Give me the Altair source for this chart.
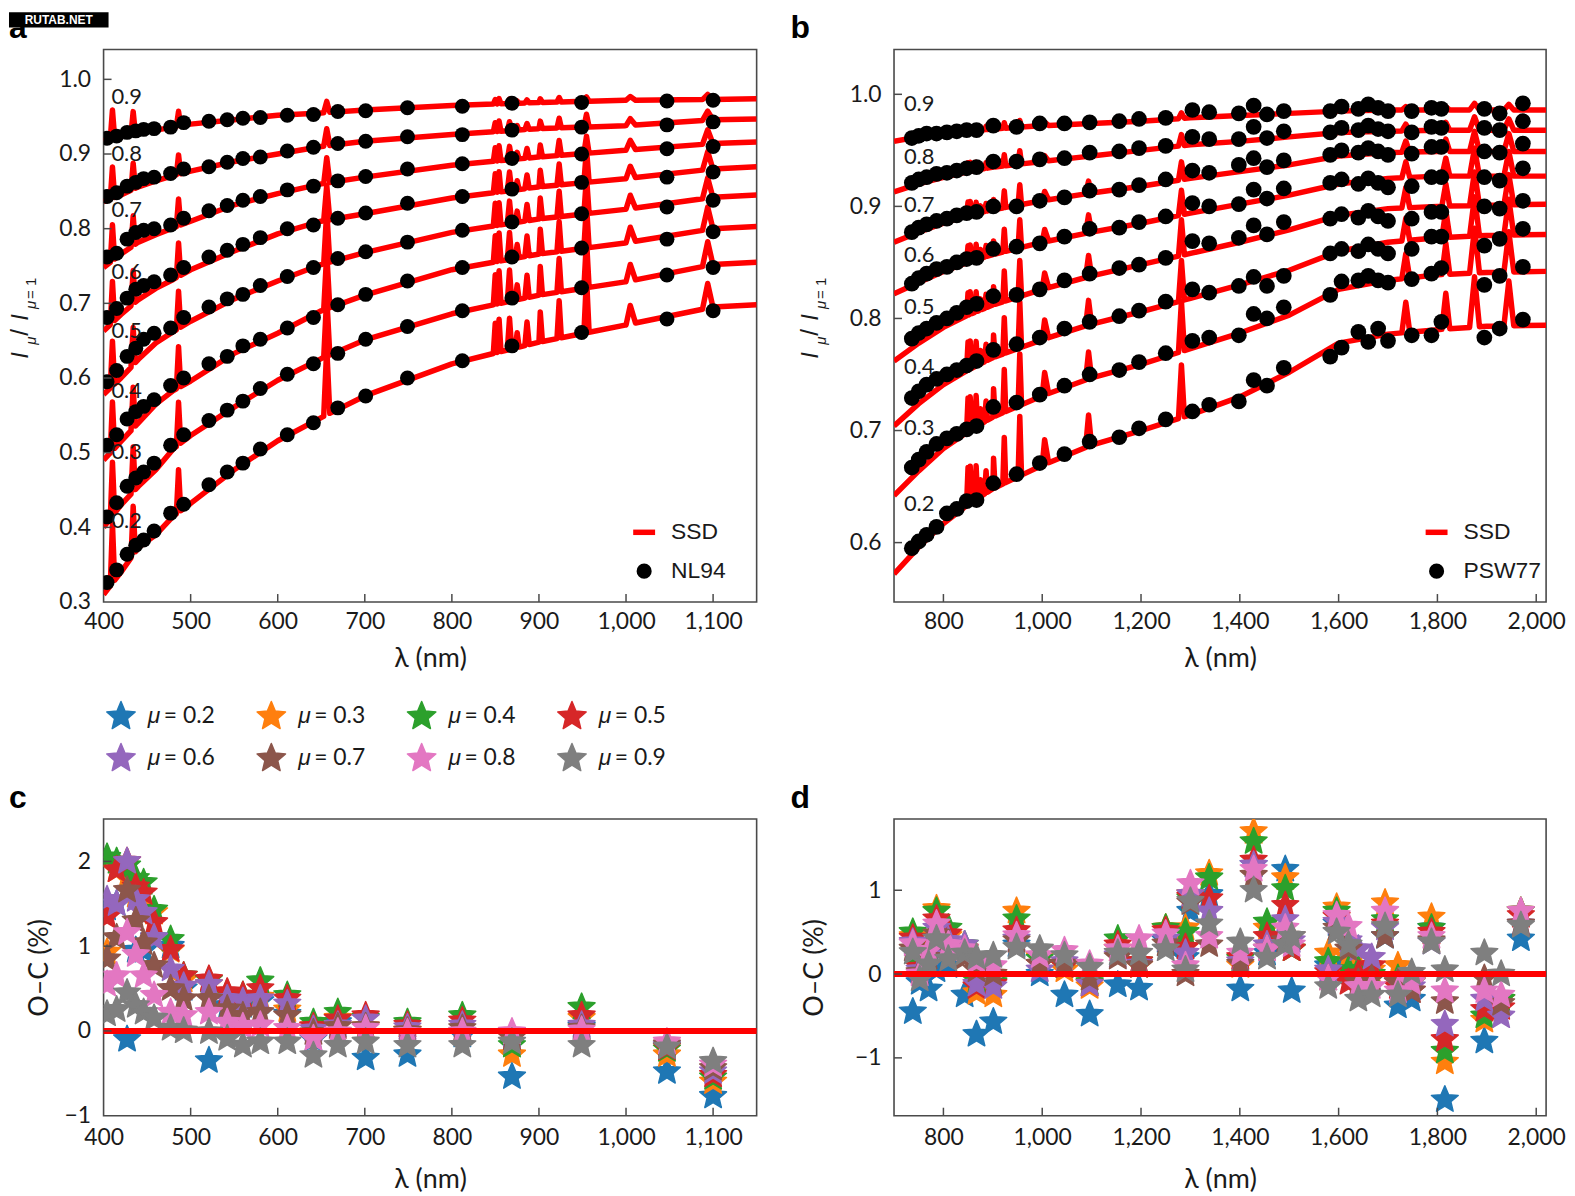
import altair as alt
import numpy as np
import pandas as pd

MUS = ["0.2", "0.3", "0.4", "0.5", "0.6", "0.7", "0.8", "0.9"]
MU_COLORS = ["#1f77b4", "#ff7f0e", "#2ca02c", "#d62728", "#9467bd", "#8c564b", "#e377c2", "#7f7f7f"]

# ---------------- panel a : SSD vs NL94 ----------------
ssd_a_wl = [400, 420, 440, 460, 480, 500, 550, 600, 650, 700, 800, 900, 1000, 1100, 1150]
ssd_a = [
    [0.310, 0.340, 0.373, 0.390, 0.415, 0.432, 0.477, 0.516, 0.547, 0.576, 0.619, 0.648, 0.671, 0.695, 0.698],
    [0.400, 0.430, 0.455, 0.477, 0.505, 0.523, 0.561, 0.597, 0.626, 0.651, 0.686, 0.711, 0.729, 0.752, 0.755],
    [0.490, 0.515, 0.540, 0.565, 0.583, 0.596, 0.633, 0.660, 0.690, 0.711, 0.745, 0.766, 0.781, 0.800, 0.803],
    [0.578, 0.600, 0.625, 0.647, 0.662, 0.676, 0.706, 0.730, 0.752, 0.768, 0.795, 0.813, 0.826, 0.842, 0.845],
    [0.663, 0.685, 0.705, 0.720, 0.732, 0.745, 0.770, 0.793, 0.810, 0.820, 0.841, 0.856, 0.867, 0.880, 0.883],
    [0.748, 0.766, 0.782, 0.792, 0.801, 0.810, 0.832, 0.847, 0.860, 0.869, 0.885, 0.896, 0.905, 0.914, 0.916],
    [0.836, 0.845, 0.856, 0.864, 0.871, 0.877, 0.890, 0.900, 0.910, 0.917, 0.926, 0.934, 0.938, 0.946, 0.947],
    [0.918, 0.924, 0.928, 0.932, 0.936, 0.940, 0.946, 0.952, 0.955, 0.959, 0.965, 0.969, 0.972, 0.973, 0.974],
]
spike_a_wl = [410.2, 434.0, 486.1, 656.3, 849.8, 854.2, 866.2, 875.0, 886.3, 901.5, 923.2, 954.6, 1004.9, 1093.8]
spike_a_hw = [2.5, 2.5, 2.5, 3.5, 2.2, 2.2, 2.5, 2.2, 2.5, 2.5, 2.5, 3.0, 6.0, 6.0]
spike_a_h = [
    [0.080, 0.072, 0.065, 0.060, 0.055, 0.048, 0.042, 0.038],
    [0.065, 0.060, 0.055, 0.050, 0.045, 0.040, 0.035, 0.030],
    [0.057, 0.057, 0.055, 0.050, 0.045, 0.036, 0.026, 0.020],
    [0.090, 0.080, 0.075, 0.070, 0.047, 0.034, 0.023, 0.015],
    [0.040, 0.040, 0.035, 0.030, 0.025, 0.018, 0.012, 0.006],
    [0.044, 0.044, 0.038, 0.030, 0.027, 0.020, 0.014, 0.007],
    [0.042, 0.042, 0.036, 0.030, 0.025, 0.018, 0.012, 0.006],
    [0.020, 0.020, 0.018, 0.015, 0.012, 0.009, 0.006, 0.003],
    [0.031, 0.030, 0.027, 0.022, 0.018, 0.013, 0.008, 0.004],
    [0.040, 0.038, 0.033, 0.028, 0.022, 0.016, 0.010, 0.005],
    [0.050, 0.045, 0.040, 0.034, 0.028, 0.020, 0.013, 0.006],
    [0.075, 0.065, 0.058, 0.050, 0.045, 0.023, 0.017, 0.006],
    [0.025, 0.022, 0.020, 0.018, 0.016, 0.013, 0.009, 0.005],
    [0.033, 0.032, 0.030, 0.027, 0.024, 0.019, 0.012, 0.007],
]
wl_nl94 = [404, 415, 427, 437, 446, 458, 477, 492, 521, 542, 560, 580, 611, 641, 669, 701, 749, 812, 869, 949, 1047, 1100]
nl94 = [
    [0.326, 0.343, 0.364, 0.376, 0.383, 0.395, 0.419, 0.431, 0.457, 0.474, 0.486, 0.505, 0.524, 0.540, 0.560, 0.576, 0.600, 0.623, 0.643, 0.661, 0.679, 0.690],
    [0.414, 0.433, 0.455, 0.466, 0.474, 0.486, 0.510, 0.524, 0.543, 0.557, 0.569, 0.586, 0.605, 0.619, 0.633, 0.652, 0.669, 0.690, 0.707, 0.721, 0.738, 0.748],
    [0.510, 0.524, 0.545, 0.555, 0.562, 0.571, 0.590, 0.600, 0.619, 0.629, 0.643, 0.652, 0.667, 0.681, 0.698, 0.712, 0.730, 0.748, 0.762, 0.774, 0.786, 0.796],
    [0.595, 0.610, 0.629, 0.640, 0.652, 0.660, 0.667, 0.681, 0.695, 0.706, 0.712, 0.724, 0.736, 0.748, 0.760, 0.769, 0.782, 0.798, 0.809, 0.820, 0.829, 0.838],
    [0.681, 0.693, 0.707, 0.719, 0.724, 0.729, 0.738, 0.748, 0.762, 0.771, 0.779, 0.788, 0.800, 0.805, 0.814, 0.821, 0.834, 0.843, 0.853, 0.862, 0.869, 0.876],
    [0.762, 0.767, 0.786, 0.795, 0.798, 0.800, 0.805, 0.814, 0.824, 0.831, 0.838, 0.843, 0.852, 0.857, 0.864, 0.870, 0.880, 0.887, 0.894, 0.900, 0.907, 0.910],
    [0.843, 0.848, 0.857, 0.862, 0.867, 0.869, 0.874, 0.880, 0.883, 0.889, 0.894, 0.896, 0.904, 0.909, 0.914, 0.917, 0.923, 0.926, 0.932, 0.936, 0.939, 0.943],
    [0.921, 0.924, 0.929, 0.931, 0.933, 0.934, 0.936, 0.942, 0.944, 0.946, 0.948, 0.949, 0.952, 0.953, 0.957, 0.958, 0.962, 0.964, 0.968, 0.969, 0.971, 0.972],
]
oc_a = [
    [1.45, 1.50, -0.10, 0.95, 0.95, 1.10, 1.00, 0.50, -0.35, 0.30, 0.30, 0.35, 0.20, -0.10, 0.10, -0.32, -0.28, -0.05, -0.54, 0.05, -0.48, -0.77],
    [0.93, 1.90, 1.80, 1.60, 1.45, 1.40, 0.95, 0.60, 0.55, 0.40, 0.35, 0.40, 0.25, 0.05, 0.15, 0.05, 0.00, -0.02, -0.28, 0.15, -0.28, -0.60],
    [2.05, 2.00, 1.95, 1.80, 1.75, 1.43, 1.08, 0.65, 0.60, 0.45, 0.42, 0.59, 0.42, 0.10, 0.22, 0.15, 0.10, 0.18, -0.17, 0.28, -0.22, -0.55],
    [1.35, 1.90, 2.00, 1.70, 1.63, 1.28, 0.96, 0.65, 0.61, 0.46, 0.42, 0.50, 0.38, 0.05, 0.14, 0.18, 0.07, 0.12, -0.08, 0.18, -0.20, -0.52],
    [1.55, 1.50, 2.00, 1.55, 1.40, 1.10, 0.73, 0.53, 0.55, 0.38, 0.35, 0.38, 0.32, 0.02, 0.07, 0.14, 0.04, 0.07, -0.05, 0.07, -0.18, -0.48],
    [0.85, 1.10, 1.66, 1.30, 1.04, 0.77, 0.50, 0.38, 0.38, 0.26, 0.18, 0.22, 0.18, -0.02, 0.05, 0.05, 0.00, 0.03, -0.08, 0.03, -0.16, -0.44],
    [0.55, 0.65, 1.16, 0.90, 0.65, 0.42, 0.22, 0.18, 0.22, 0.10, 0.05, 0.07, 0.03, -0.09, -0.01, 0.03, -0.02, -0.01, -0.01, 0.01, -0.13, -0.40],
    [0.20, 0.25, 0.45, 0.30, 0.22, 0.15, 0.03, 0.00, -0.01, -0.09, -0.17, -0.13, -0.13, -0.29, -0.17, -0.13, -0.17, -0.17, -0.13, -0.17, -0.19, -0.36],
]
label_a_y = [0.408, 0.501, 0.583, 0.663, 0.742, 0.825, 0.900, 0.976]

# ---------------- panel b : SSD vs PSW77 ----------------
ssd_b_wl = [700, 750, 800, 850, 900, 1000, 1100, 1200, 1300, 1400, 1500, 1600, 1700, 1800, 1900, 2020]
ssd_b = [
    [0.572, 0.596, 0.617, 0.634, 0.648, 0.669, 0.687, 0.700, 0.714, 0.730, 0.752, 0.778, 0.786, 0.790, 0.793, 0.794],
    [0.642, 0.664, 0.684, 0.699, 0.712, 0.731, 0.747, 0.759, 0.773, 0.787, 0.803, 0.826, 0.834, 0.839, 0.841, 0.842],
    [0.704, 0.724, 0.741, 0.754, 0.765, 0.781, 0.795, 0.806, 0.818, 0.830, 0.843, 0.860, 0.868, 0.872, 0.874, 0.875],
    [0.762, 0.778, 0.792, 0.803, 0.812, 0.826, 0.838, 0.848, 0.858, 0.868, 0.879, 0.892, 0.898, 0.900, 0.901, 0.902],
    [0.822, 0.832, 0.842, 0.850, 0.857, 0.868, 0.877, 0.885, 0.894, 0.902, 0.910, 0.920, 0.925, 0.927, 0.927, 0.927],
    [0.868, 0.877, 0.885, 0.892, 0.897, 0.905, 0.912, 0.918, 0.925, 0.931, 0.937, 0.945, 0.948, 0.949, 0.949, 0.949],
    [0.913, 0.920, 0.926, 0.931, 0.935, 0.940, 0.945, 0.950, 0.955, 0.958, 0.962, 0.966, 0.967, 0.968, 0.968, 0.968],
    [0.958, 0.962, 0.965, 0.967, 0.969, 0.972, 0.974, 0.976, 0.979, 0.981, 0.983, 0.985, 0.986, 0.986, 0.986, 0.986],
]
spike_b_wl = [849.8, 854.2, 866.2, 875.0, 886.3, 901.5, 923.2, 954.6, 1004.9, 1093.8, 1281.8, 1736.0, 1817.0, 1875.1, 1944.6]
spike_b_hw = [3, 3, 3, 3, 3, 3, 3, 3.5, 8, 6, 6, 8, 8, 10, 10]
spike_b_h = [
    [0.033, 0.030, 0.025, 0.020, 0.015, 0.012, 0.008, 0.004],
    [0.033, 0.030, 0.025, 0.020, 0.015, 0.012, 0.008, 0.004],
    [0.030, 0.028, 0.022, 0.018, 0.014, 0.010, 0.007, 0.004],
    [0.015, 0.014, 0.012, 0.010, 0.008, 0.006, 0.004, 0.002],
    [0.020, 0.018, 0.015, 0.012, 0.010, 0.007, 0.005, 0.003],
    [0.027, 0.025, 0.020, 0.016, 0.012, 0.009, 0.006, 0.003],
    [0.041, 0.038, 0.032, 0.027, 0.020, 0.015, 0.010, 0.005],
    [0.053, 0.046, 0.041, 0.032, 0.025, 0.018, 0.012, 0.006],
    [0.022, 0.020, 0.017, 0.014, 0.011, 0.008, 0.005, 0.003],
    [0.028, 0.024, 0.022, 0.019, 0.016, 0.011, 0.006, 0.003],
    [0.047, 0.045, 0.036, 0.032, 0.022, 0.016, 0.010, 0.005],
    [0.027, 0.022, 0.020, 0.018, 0.014, 0.010, 0.006, 0.003],
    [0.032, 0.028, 0.024, 0.020, 0.016, 0.011, 0.007, 0.003],
    [0.045, 0.040, 0.035, 0.030, 0.025, 0.018, 0.012, 0.006],
    [0.040, 0.036, 0.032, 0.027, 0.022, 0.016, 0.010, 0.005],
]
wl_psw77 = [736, 750, 766, 786, 807, 827, 847, 867, 901, 948, 995, 1045, 1096, 1156, 1196, 1250, 1304, 1338,
            1398, 1428, 1455, 1489, 1583, 1606, 1640, 1660, 1680, 1700, 1748, 1788, 1808, 1895, 1926, 1973]
psw77 = [
    [0.595, 0.601, 0.607, 0.614, 0.626, 0.630, 0.637, 0.638, 0.653, 0.661, 0.671, 0.679, 0.690, 0.694, 0.702, 0.710, 0.717, 0.723, 0.726, 0.745, 0.740, 0.756, 0.766, 0.774, 0.788, 0.779, 0.791, 0.780, 0.785, 0.785, 0.797, 0.783, 0.791, 0.799],
    [0.667, 0.674, 0.681, 0.688, 0.693, 0.697, 0.701, 0.704, 0.721, 0.725, 0.732, 0.740, 0.750, 0.754, 0.761, 0.769, 0.780, 0.783, 0.785, 0.804, 0.800, 0.810, 0.821, 0.833, 0.834, 0.838, 0.834, 0.832, 0.835, 0.840, 0.845, 0.830, 0.838, 0.846],
    [0.729, 0.735, 0.741, 0.746, 0.750, 0.754, 0.758, 0.762, 0.772, 0.777, 0.783, 0.791, 0.797, 0.802, 0.807, 0.815, 0.826, 0.823, 0.829, 0.837, 0.829, 0.838, 0.858, 0.862, 0.860, 0.866, 0.862, 0.858, 0.862, 0.873, 0.873, 0.865, 0.871, 0.880],
    [0.782, 0.787, 0.791, 0.796, 0.800, 0.805, 0.810, 0.813, 0.820, 0.821, 0.826, 0.834, 0.840, 0.845, 0.848, 0.854, 0.869, 0.867, 0.872, 0.883, 0.875, 0.886, 0.889, 0.893, 0.890, 0.896, 0.891, 0.887, 0.889, 0.895, 0.895, 0.900, 0.898, 0.905],
    [0.831, 0.836, 0.840, 0.844, 0.846, 0.850, 0.853, 0.854, 0.862, 0.864, 0.867, 0.873, 0.880, 0.881, 0.886, 0.891, 0.903, 0.900, 0.902, 0.915, 0.907, 0.916, 0.921, 0.924, 0.920, 0.925, 0.921, 0.917, 0.918, 0.926, 0.926, 0.926, 0.923, 0.934],
    [0.877, 0.881, 0.884, 0.887, 0.889, 0.892, 0.894, 0.895, 0.900, 0.900, 0.905, 0.908, 0.914, 0.915, 0.919, 0.924, 0.932, 0.930, 0.937, 0.943, 0.935, 0.941, 0.946, 0.950, 0.948, 0.952, 0.949, 0.946, 0.947, 0.953, 0.953, 0.949, 0.948, 0.956],
    [0.921, 0.924, 0.926, 0.929, 0.930, 0.932, 0.934, 0.935, 0.940, 0.940, 0.942, 0.943, 0.948, 0.949, 0.952, 0.954, 0.962, 0.960, 0.960, 0.971, 0.961, 0.967, 0.966, 0.970, 0.968, 0.972, 0.969, 0.967, 0.966, 0.971, 0.970, 0.970, 0.968, 0.976],
    [0.961, 0.963, 0.965, 0.965, 0.966, 0.967, 0.968, 0.968, 0.972, 0.971, 0.974, 0.974, 0.975, 0.976, 0.978, 0.979, 0.986, 0.984, 0.983, 0.990, 0.982, 0.985, 0.985, 0.989, 0.987, 0.991, 0.988, 0.985, 0.985, 0.988, 0.987, 0.987, 0.983, 0.992],
]
label_b_y = [0.634, 0.702, 0.757, 0.810, 0.857, 0.901, 0.944, 0.991]

# ---------------- panel d : O-C for PSW77 (columns, mu 0.2 ... 0.9) ----------------
wl_d = [738, 752, 770, 786, 810, 843, 867, 901, 948, 995, 1045, 1096, 1153, 1196, 1250, 1290, 1300, 1338,
        1401, 1428, 1455, 1492, 1505, 1579, 1596, 1620, 1640, 1667, 1694, 1720, 1748, 1788, 1815, 1895, 1929, 1969]
oc_d = [
    [-0.45, 0.45, 0.50, 0.43, 0.38, 0.30, 0.36, 0.26],
    [-0.10, 0.10, 0.12, 0.08, 0.05, 0.02, 0.00, -0.06],
    [-0.18, 0.30, 0.35, 0.30, 0.25, 0.20, 0.28, 0.12],
    [0.05, 0.78, 0.75, 0.66, 0.55, 0.48, 0.60, 0.42],
    [0.10, 0.45, 0.55, 0.48, 0.40, 0.30, 0.35, 0.18],
    [-0.25, 0.30, 0.35, 0.30, 0.35, 0.20, 0.30, 0.25],
    [-0.72, -0.22, -0.08, -0.15, -0.12, 0.05, 0.15, 0.20],
    [-0.57, -0.25, -0.10, -0.12, -0.15, 0.00, 0.10, 0.22],
    [0.35, 0.75, 0.66, 0.52, 0.42, 0.40, 0.46, 0.32],
    [0.00, 0.20, 0.18, 0.12, 0.05, 0.12, 0.22, 0.30],
    [-0.25, 0.05, 0.10, 0.10, 0.15, 0.12, 0.28, 0.22],
    [-0.48, -0.15, -0.10, -0.12, -0.12, -0.05, 0.12, 0.08],
    [-0.13, 0.30, 0.42, 0.35, 0.22, 0.20, 0.30, 0.25],
    [-0.17, 0.10, 0.15, 0.15, 0.12, 0.10, 0.42, 0.25],
    [0.40, 0.55, 0.55, 0.52, 0.42, 0.36, 0.48, 0.30],
    [0.20, 0.55, 0.50, 0.32, 0.25, 0.00, 0.10, 0.05],
    [0.75, 0.95, 0.90, 0.92, 0.95, 0.85, 1.08, 0.87],
    [0.95, 1.20, 1.15, 0.90, 0.75, 0.35, 0.45, 0.60],
    [-0.18, 0.10, 0.18, 0.20, 0.15, 0.12, 0.25, 0.38],
    [1.30, 1.70, 1.58, 1.36, 1.30, 1.18, 1.25, 1.00],
    [0.25, 0.55, 0.62, 0.45, 0.35, 0.30, 0.30, 0.20],
    [1.25, 1.15, 1.02, 0.82, 0.65, 0.40, 0.55, 0.35],
    [-0.20, 0.30, 0.30, 0.30, 0.40, 0.45, 0.35, 0.45],
    [0.10, 0.25, 0.15, 0.02, 0.05, -0.05, -0.05, -0.15],
    [0.60, 0.80, 0.75, 0.68, 0.62, 0.55, 0.70, 0.50],
    [0.10, 0.20, 0.05, -0.10, 0.40, 0.30, 0.57, 0.35],
    [0.00, 0.10, 0.05, 0.00, 0.30, -0.10, -0.15, -0.30],
    [-0.05, 0.05, 0.00, 0.10, 0.20, -0.05, -0.15, -0.25],
    [0.45, 0.85, 0.65, 0.60, 0.55, 0.45, 0.75, 0.57],
    [-0.38, 0.10, -0.05, -0.15, -0.10, -0.10, -0.20, -0.25],
    [-0.30, -0.10, -0.10, -0.20, -0.15, -0.20, -0.10, 0.02],
    [0.55, 0.68, 0.55, 0.50, 0.38, 0.40, 0.45, 0.38],
    [-1.50, -1.05, -0.92, -0.78, -0.60, -0.33, -0.20, 0.05],
    [-0.80, -0.55, -0.50, -0.42, -0.30, -0.05, -0.20, 0.25],
    [-0.30, -0.30, -0.30, -0.40, -0.50, -0.35, -0.25, 0.00],
    [0.42, 0.75, 0.75, 0.70, 0.60, 0.60, 0.75, 0.58],
]

# ---------------- axes ----------------
xticks_a = [400, 500, 600, 700, 800, 900, 1000, 1100]
yticks_a = [0.3, 0.4, 0.5, 0.6, 0.7, 0.8, 0.9, 1.0]
xticks_b = [800, 1000, 1200, 1400, 1600, 1800, 2000]
yticks_b = [0.6, 0.7, 0.8, 0.9, 1.0]
yticks_c = [-1, 0, 1, 2]
yticks_d = [-1, 0, 1]

RED = "#ff0000"
FRAME = "#4a4a4a"
TXT = "#1a1a1a"
NUMFONT = "Lato"
SANS = "Liberation Sans"
STAR = ("M0,-1L0.2645,-0.364L0.951,-0.309L0.428,0.139L0.588,0.809L0,0.45"
        "L-0.588,0.809L-0.428,0.139L-0.951,-0.309L-0.2645,-0.364Z")
DUMMY = pd.DataFrame({"d": [0]})

W_AC, W_BD = 656, 655
H_TOP, H_BOT = 555, 298


def build_line(cont_wl, cont_rows, sp_wl, sp_hw, sp_h):
    recs = []
    for i, mu in enumerate(MUS):
        cv = cont_rows[i]
        pts = list(zip(cont_wl, cv))
        for j, w in enumerate(sp_wl):
            hw = sp_hw[j]
            for ww, extra in ((w - hw, 0.0), (w, sp_h[j][i]), (w + hw, 0.0)):
                pts.append((ww, float(np.interp(ww, cont_wl, cv)) + extra))
        pts.sort()
        recs += [{"wl": w, "val": v, "mu": mu} for w, v in pts]
    return pd.DataFrame(recs)


def build_rows(wls, rows):
    return pd.DataFrame([{"wl": w, "val": rows[i][k], "mu": mu}
                         for i, mu in enumerate(MUS) for k, w in enumerate(wls)])


def xenc(dom, ticks, lpad=9, tpad=12):
    return alt.X("wl:Q", scale=alt.Scale(domain=dom, nice=False, zero=False),
                 axis=alt.Axis(values=ticks, format=",d", title="λ (nm)", labelFlush=False,
                               labelOverlap=False, labelPadding=lpad, titlePadding=tpad))


def yenc(dom, ticks, fmt, title="", tpad=4):
    return alt.Y("val:Q", scale=alt.Scale(domain=dom, nice=False, zero=False),
                 axis=alt.Axis(values=ticks, format=fmt, title=title, labelFlush=False,
                               labelOverlap=False, labelPadding=13, titlePadding=tpad))


def vtext(txt, x, y, size, **kw):
    return alt.Chart(DUMMY).mark_text(text=txt, fontSize=size, **kw).encode(
        x=alt.value(x), y=alt.value(y))


def tick_layers(X, Y, H, xt, yt):
    tx = alt.Chart(pd.DataFrame({"wl": xt})).mark_rule(color=FRAME, strokeWidth=1.5).encode(
        x=X, y=alt.value(H), y2=alt.value(H - 8))
    ty = alt.Chart(pd.DataFrame({"val": yt})).mark_rule(color=FRAME, strokeWidth=1.5).encode(
        y=Y, x=alt.value(0), x2=alt.value(8))
    return [tx, ty]


def ytitle_layers():
    big, sub = 24, 15
    common = dict(angle=270, align="left", baseline="alphabetic", font=SANS, color=TXT)
    return [
        vtext("I", -76, 310.6, big, fontStyle="italic", **common),
        vtext("μ", -68, 296.6, sub, fontStyle="italic", **common),
        vtext("/", -76, 287.6, big, **common),
        vtext("I", -76, 272.6, big, fontStyle="italic", **common),
        vtext("μ", -68, 260.6, sub, fontStyle="italic", **common),
        vtext("= 1", -68, 250.6, sub, **common),
    ]


def data_panel(line_df, dot_df, X, Y, H, xt, yt, lab_x, lab_y, dot_size, legend_name, leg_x):
    line = alt.Chart(line_df).mark_line(color=RED, strokeWidth=5.5, clip=True,
                                        strokeJoin="round").encode(x=X, y=Y, detail="mu:N")
    dots = alt.Chart(dot_df).mark_circle(color="black", opacity=1, size=dot_size, clip=True).encode(x=X, y=Y)
    labs = alt.Chart(pd.DataFrame({"wl": [lab_x] * 8, "val": lab_y, "t": MUS})).mark_text(
        align="left", baseline="middle", font=NUMFONT, fontSize=22, color=TXT).encode(x=X, y=Y, text="t:N")
    leg = [
        alt.Chart(DUMMY).mark_rule(color=RED, strokeWidth=5.5).encode(
            x=alt.value(leg_x), x2=alt.value(leg_x + 22), y=alt.value(485)),
        vtext("SSD", leg_x + 38, 485, 23, align="left", baseline="middle", font=SANS, color=TXT),
        alt.Chart(DUMMY).mark_circle(color="black", opacity=1, size=230).encode(
            x=alt.value(leg_x + 11), y=alt.value(524)),
        vtext(legend_name, leg_x + 38, 524, 23, align="left", baseline="middle", font=SANS, color=TXT),
    ]
    return [line, dots, labs] + tick_layers(X, Y, H, xt, yt) + leg + ytitle_layers()


def star_panel(oc_df, X, Y, H, xt, yt):
    stars = alt.Chart(oc_df).mark_point(shape=STAR, size=800, filled=True, opacity=1,
                                        strokeWidth=1.5, strokeJoin="round", clip=True).encode(
        x=X, y=Y,
        color=alt.Color("mu:N", scale=alt.Scale(domain=MUS, range=MU_COLORS), legend=None),
        stroke=alt.Stroke("mu:N", scale=alt.Scale(domain=MUS, range=MU_COLORS), legend=None),
        order=alt.Order("k:Q"))
    zero = alt.Chart(pd.DataFrame({"val": [0.0]})).mark_rule(color=RED, strokeWidth=6).encode(y=Y)
    return [stars, zero] + tick_layers(X, Y, H, xt, yt)


def panel_letter(ch, x, y):
    return vtext(ch, x, y, 32, font=SANS, fontWeight="bold", align="left", baseline="alphabetic", color="black")


# ---- panel a
XA = xenc([400, 1150], xticks_a)
YA = yenc([0.3, 1.04], yticks_a, ".1f")
line_a = build_line(ssd_a_wl, ssd_a, spike_a_wl, spike_a_hw, spike_a_h)
dots_a = build_rows(wl_nl94, nl94)
layers_a = data_panel(line_a, dots_a, XA, YA, H_TOP, xticks_a[1:], yticks_a[1:], 409, label_a_y, 225, "NL94", 532)
layers_a += [
    alt.Chart(DUMMY).mark_rect(color="black").encode(x=alt.value(-95), x2=alt.value(5),
                                                     y=alt.value(-37.4), y2=alt.value(-22)),
    vtext("RUTAB.NET", -45, -29.5, 12, font=SANS, fontWeight="bold", color="white",
          align="center", baseline="middle"),
    panel_letter("a", -95, -11.4),
]
panel_a = alt.layer(*layers_a).properties(width=W_AC, height=H_TOP)

# ---- panel b
XB = xenc([700, 2020], xticks_b)
YB = yenc([0.547, 1.04], yticks_b, ".1f")
line_b = build_line(ssd_b_wl, ssd_b, spike_b_wl, spike_b_hw, spike_b_h)
dots_b = build_rows(wl_psw77, psw77)
layers_b = data_panel(line_b, dots_b, XB, YB, H_TOP, xticks_b, yticks_b, 720, label_b_y, 250, "PSW77", 534)
layers_b += [panel_letter("b", -104, -11.4)]
panel_b = alt.layer(*layers_b).properties(width=W_BD, height=H_TOP)

# ---- panel c
XC = xenc([400, 1150], xticks_a, 11, 17)
YC = yenc([-1.0, 2.5], yticks_c, "d", "O–C (%)", 11)
oc_c_df = pd.DataFrame([{"wl": w, "val": oc_a[i][k], "mu": mu, "k": i}
                        for i, mu in enumerate(MUS) for k, w in enumerate(wl_nl94)])
layers_c = star_panel(oc_c_df, XC, YC, H_BOT, xticks_a[1:], yticks_c[1:])
for i, mu in enumerate(MUS):
    cx = 17.5 + (i % 4) * 151
    cy = -103 + (i // 4) * 42.2
    layers_c += [
        alt.Chart(DUMMY).mark_point(shape=STAR, size=900, filled=True, opacity=1, color=MU_COLORS[i],
                                    stroke=MU_COLORS[i], strokeWidth=1.5, strokeJoin="round").encode(
            x=alt.value(cx), y=alt.value(cy)),
        vtext("μ", cx + 27, cy, 23, font=SANS, fontStyle="italic", align="left", baseline="middle", color=TXT),
        vtext("= " + mu, cx + 43, cy, 23, font=NUMFONT, align="left", baseline="middle", color=TXT),
    ]
layers_c += [panel_letter("c", -95, -11)]
panel_c = alt.layer(*layers_c).properties(width=W_AC, height=H_BOT)

# ---- panel d
XD = xenc([700, 2020], xticks_b, 11, 17)
YD = yenc([-1.69, 1.85], yticks_d, "d", "O–C (%)", 26)
oc_d_df = pd.DataFrame([{"wl": w, "val": oc_d[k][i], "mu": mu, "k": i}
                        for i, mu in enumerate(MUS) for k, w in enumerate(wl_d)])
layers_d = star_panel(oc_d_df, XD, YD, H_BOT, xticks_b, yticks_d)
layers_d += [panel_letter("d", -104, -11)]
panel_d = alt.layer(*layers_d).properties(width=W_BD, height=H_BOT)

chart = alt.concat(
    panel_a, panel_b, panel_c, panel_d, columns=2,
    spacing=alt.RowColnumber(row=218, column=138), bounds="flush"
).properties(
    padding=0
).configure_view(
    stroke=FRAME, strokeWidth=1.6
).configure_axis(
    grid=False, domain=False, ticks=False, tickSize=0,
    labelFont=NUMFONT, labelFontSize=23, labelColor=TXT,
    titleFont=NUMFONT, titleFontSize=27, titleFontWeight="normal", titleColor=TXT,
)

chart.save("out.html", embed_options={"renderer": "svg", "actions": False})
